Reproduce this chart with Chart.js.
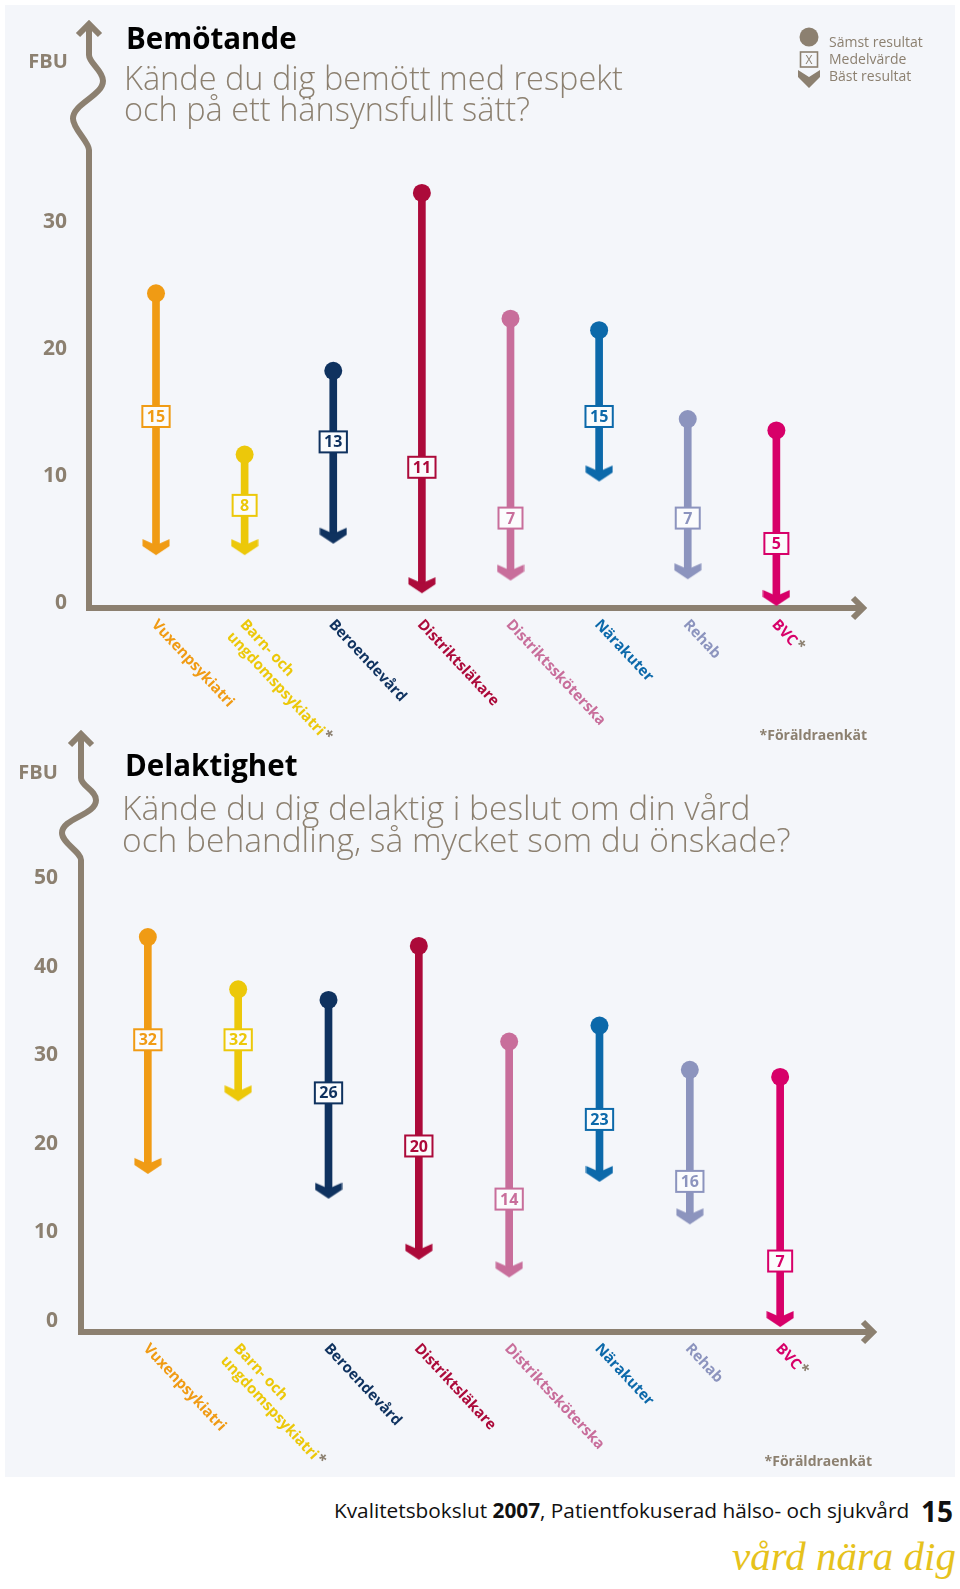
<!DOCTYPE html>
<html lang="sv">
<head>
<meta charset="utf-8">
<script src="https://cdn.jsdelivr.net/npm/chart.js@4.4.1/dist/chart.umd.min.js"></script>
<style>
  html, body { margin: 0; padding: 0; background: #fff; }
  body { width: 960px; height: 1589px; position: relative; overflow: hidden; font-family: "Open Sans", "Noto Sans", sans-serif; }
  #panel { position: absolute; left: 5px; top: 5px; width: 950px; height: 1472px; background: #f4f6fa; }
  canvas { position: absolute; left: 0; }
  .txt { position: absolute; white-space: nowrap; line-height: 1; transform: translateY(-50%); }
  .fbu { font-weight: 700; font-size: 20px; color: #8c8070; transform: translate(-50%, -50%); }
  .rubrik { font-weight: 700; font-size: 29.5px; color: #000; }
  .fraga { position: absolute; white-space: nowrap; font-size: 32.5px; line-height: 31px; color: #8c8070; font-weight: 300; }
  .fot { font-weight: 700; font-size: 14px; color: #8c8070; }
  .legend { position: absolute; left: 829px; top: 33px; font-size: 14px; line-height: 17px; color: #8c8070; }
</style>
</head>
<body>
<div id="panel"></div>
<canvas id="bemotande" width="960" height="745" style="top:0"></canvas>
<canvas id="delaktighet" width="960" height="765" style="top:715px"></canvas>

<div class="txt fbu" style="left:48px; top:61px">FBU</div>
<div class="txt rubrik" style="left:126px; top:38px">Bemötande</div>
<div class="fraga" style="left:124px; top:62px">Kände du dig bemött med respekt<br>och på ett hänsynsfullt sätt?</div>

<svg style="position:absolute; left:798px; top:26px" width="24" height="66">
  <circle cx="11" cy="11" r="9.5" fill="#8c8070"/>
  <rect x="2.5" y="26" width="17" height="15" fill="none" stroke="#8c8070" stroke-width="1.6"/>
  <text x="11" y="38" text-anchor="middle" font-size="12" font-family="Open Sans" fill="#8c8070">X</text>
  <polygon points="0,44 11,51 22,44 22,51 11,62 0,51" fill="#8c8070"/>
</svg>
<div class="legend">Sämst resultat<br>Medelvärde<br>Bäst resultat</div>

<div class="txt fot" style="right:93px; top:735px">*Föräldraenkät</div>

<div class="txt fbu" style="left:38px; top:772px">FBU</div>
<div class="txt rubrik" style="left:125px; top:765px">Delaktighet</div>
<div class="fraga" style="left:122px; top:791px; line-height:32px; font-size:33.5px">Kände du dig delaktig i beslut om din vård<br>och behandling, så mycket som du önskade?</div>

<div class="txt fot" style="right:88px; top:1461px">*Föräldraenkät</div>

<div class="txt" style="left:334px; top:1510px; font-size:20.8px; color:#111">Kvalitetsbokslut <b>2007</b>, Patientfokuserad hälso- och sjukvård</div>
<div class="txt" style="left:921px; top:1511px; font-size:28px; font-weight:700; color:#111">15</div>
<div class="txt" style="left:732px; top:1556px; font-size:41px; font-family:'Liberation Serif', serif; font-style:italic; color:#e6c21c">vård nära dig</div>

<script>
// kategorier och färger
const kategorier = ['Vuxenpsykiatri', ['Barn- och', 'ungdomspsykiatri*'], 'Beroendevård', 'Distriktsläkare',
                    'Distriktssköterska', 'Närakuter', 'Rehab', 'BVC*'];
const farger = ['#f09b14', '#ecc80a', '#0f325f', '#ac0a3a', '#c86e9b', '#0c69aa', '#8c94be', '#d70069'];

// Bemötande
const bemotandeSamst = [24.7, 12.0, 18.6, 32.6, 22.7, 21.8, 14.8, 13.9];
const bemotandeMedel = [15, 8, 13, 11, 7, 15, 7, 5];
const bemotandeBast  = [4.4, 4.4, 5.3, 1.4, 2.4, 10.2, 2.5, 0.4];
const bemotandeTicks = [0, 10, 20, 30];

// Delaktighet
const delakSamst = [43.6, 37.7, 36.5, 42.6, 31.8, 33.6, 28.6, 27.8];
const delakMedel = [32, 32, 26, 20, 14, 23, 16, 7];
const delakBast  = [17.3, 25.5, 14.5, 7.6, 5.6, 16.4, 11.6, 0];
const delakTicks = [0, 10, 20, 30, 40, 50];

const TAUPE = '#8c8070';
const FONT = '"Open Sans", "Noto Sans", sans-serif';

// pilspets som punktstil (spetsen 4px under punkten)
function pilspets(farg) {
    const c = document.createElement('canvas');
    c.width = 28; c.height = 26;
    const g = c.getContext('2d');
    g.fillStyle = farg;
    g.beginPath();
    g.moveTo(0.5, 1); g.lineTo(14, 7); g.lineTo(27.5, 1); g.lineTo(27.5, 8);
    g.lineTo(14, 17); g.lineTo(0.5, 8); g.closePath();
    g.fill();
    return c;
}
const pilar = farger.map(pilspets);

// axlar, medelvärdesrutor och kategorietiketter
const fbuPlugin = {
    id: 'fbu',
    beforeDatasetsDraw(chart, args, o) {
        const ctx = chart.ctx;
        const { left: x0, top, bottom, right } = chart.chartArea;
        const a = o.w0 + (o.w1 - o.w0) * 0.27, b = o.w0 + (o.w1 - o.w0) * 0.67;
        ctx.save();
        ctx.strokeStyle = TAUPE;
        ctx.lineWidth = 6;
        ctx.lineJoin = 'miter';
        ctx.beginPath();
        ctx.moveTo(x0, top + 4);
        ctx.lineTo(x0, o.w0);
        ctx.bezierCurveTo(x0, o.w0 + 8, x0 + o.r, a - 10, x0 + o.r, a);
        ctx.bezierCurveTo(x0 + o.r, a + 15, x0 - o.l, b - 15, x0 - o.l, b);
        ctx.bezierCurveTo(x0 - o.l, b + 10, x0, o.w1 - 8, x0, o.w1);
        ctx.lineTo(x0, bottom);
        ctx.lineTo(right - 4, bottom);
        ctx.stroke();
        // pilar på axlarna
        ctx.beginPath();
        ctx.moveTo(x0 - 11, top + 15); ctx.lineTo(x0, top + 4); ctx.lineTo(x0 + 11, top + 15);
        ctx.moveTo(right - 12, bottom - 10); ctx.lineTo(right - 2, bottom); ctx.lineTo(right - 12, bottom + 10);
        ctx.stroke();
        ctx.restore();
    },
    afterDatasetsDraw(chart, args, o) {
        const ctx = chart.ctx;
        const medel = chart.data.datasets[0];
        const meta = chart.getDatasetMeta(0);
        ctx.save();
        ctx.font = '700 16px ' + FONT;
        ctx.textAlign = 'center';
        ctx.textBaseline = 'middle';
        meta.data.forEach((pt, i) => {
            const txt = String(medel.data[i].y);
            const w = Math.max(24, ctx.measureText(txt).width + 9);
            ctx.fillStyle = '#fbfcfd';
            ctx.fillRect(pt.x - w / 2, pt.y - 10.5, w, 21);
            ctx.strokeStyle = farger[i];
            ctx.lineWidth = 2;
            ctx.strokeRect(pt.x - w / 2, pt.y - 10.5, w, 21);
            ctx.fillStyle = farger[i];
            ctx.fillText(txt, pt.x, pt.y + 1);
        });
        // kategorier, snett nedåt höger
        const xs = chart.scales.x;
        const yb = chart.chartArea.bottom;
        ctx.font = '700 15px ' + FONT;
        ctx.textAlign = 'left';
        kategorier.forEach((kat, i) => {
            const rader = Array.isArray(kat) ? kat : [kat];
            ctx.save();
            ctx.translate(xs.getPixelForValue(i) + o.dx, yb + o.dy);
            ctx.rotate(47 * Math.PI / 180);
            rader.forEach((rad, j) => {
                const stjarna = rad.endsWith('*');
                const t = stjarna ? rad.slice(0, -1) : rad;
                ctx.fillStyle = farger[i];
                ctx.fillText(t, 0, j * 18);
                if (stjarna) {
                    ctx.fillStyle = TAUPE;
                    ctx.fillText('*', ctx.measureText(t).width + 1, j * 18 - 2);
                }
            });
            ctx.restore();
        });
        ctx.restore();
    }
};

function ritaDiagram(id, samst, medel, bast, ticks, l) {
    new Chart(document.getElementById(id), {
        type: 'bar',
        data: {
            datasets: [
                { type: 'scatter', label: 'Medelvärde', data: medel.map((v, i) => ({ x: i, y: v })),
                  pointRadius: 0, order: 1 },
                { type: 'scatter', label: 'Sämst resultat', data: samst.map((v, i) => ({ x: i, y: v })),
                  pointRadius: 9, pointBackgroundColor: farger, pointBorderWidth: 0, order: 2 },
                { type: 'scatter', label: 'Bäst resultat', data: bast.map((v, i) => ({ x: i, y: v })),
                  pointStyle: pilar, pointRadius: 10, order: 3 },
                { type: 'bar', label: 'spann', data: bast.map((v, i) => ({ x: i, y: [v, samst[i]] })),
                  backgroundColor: farger, barThickness: 7, order: 4 }
            ]
        },
        options: {
            responsive: false,
            animation: false,
            events: [],
            layout: { padding: { top: l.top, right: l.right, bottom: l.bottom, left: 0 } },
            plugins: {
                legend: { display: false },
                tooltip: { enabled: false },
                fbu: { w0: l.w0, w1: l.w1, r: l.r, l: l.l, dx: -2, dy: 14 }
            },
            scales: {
                x: { type: 'linear', min: l.xmin, max: l.xmax, offset: false, display: false },
                y: {
                    type: 'linear', min: l.ymin, max: l.ymax,
                    grid: { display: false, drawTicks: false },
                    border: { display: false },
                    ticks: { padding: l.pad, labelOffset: l.lo, color: TAUPE, font: { family: FONT, size: 21, weight: '700' } },
                    afterFit(s) { s.width = l.axisX; s.paddingTop = 0; s.paddingBottom = 0; },
                    afterBuildTicks(s) { s.ticks = ticks.map(v => ({ value: v })); }
                }
            }
        },
        plugins: [fbuPlugin]
    });
}

ritaDiagram('bemotande', bemotandeSamst, bemotandeMedel, bemotandeBast, bemotandeTicks,
    { top: 20, right: 95, bottom: 137, axisX: 89, pad: 22, lo: -4, xmin: -0.756, xmax: 8.0,
      ymin: -0.08, ymax: 46.22, w0: 55, w1: 150, r: 14, l: 16 });

ritaDiagram('delaktighet', delakSamst, delakMedel, delakBast, delakTicks,
    { top: 15, right: 85, bottom: 148, axisX: 81, pad: 23, lo: -2, xmin: -0.74, xmax: 8.05,
      ymin: -1.017, ymax: 67.0, w0: 63, w1: 145, r: 15, l: 19 });
</script>
</body>
</html>
